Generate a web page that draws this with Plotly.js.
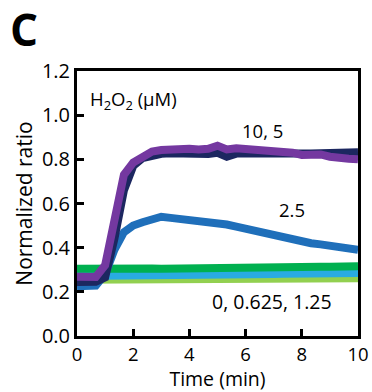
<!DOCTYPE html>
<html><head><meta charset="utf-8">
<script src="https://cdn.plot.ly/plotly-3.0.1.min.js"></script>
<style>html,body{margin:0;padding:0;background:#fff;}#chart{width:372px;height:392px;}</style>
</head><body><div id="chart"></div>
<script>
const time = [0,0.33,0.67,1.0,1.33,1.67,2.0,2.33,2.67,3.0,3.33,3.67,4.0,4.33,4.67,5.0,5.33,5.67,6.0,6.33,6.67,7.0,7.33,7.67,8.0,8.33,8.67,9.0,9.33,9.67,10.0];
const c0     = [0.305,0.306,0.305,0.305,0.305,0.306,0.305,0.306,0.306,0.305,0.306,0.307,0.307,0.308,0.308,0.309,0.31,0.31,0.311,0.311,0.312,0.312,0.312,0.313,0.313,0.313,0.314,0.314,0.315,0.315,0.316];
const c0625  = [0.255,0.255,0.255,0.255,0.254,0.254,0.254,0.255,0.255,0.255,0.256,0.255,0.256,0.256,0.257,0.257,0.257,0.258,0.258,0.258,0.258,0.259,0.259,0.259,0.26,0.26,0.26,0.26,0.261,0.261,0.262];
const c125   = [0.272,0.272,0.272,0.273,0.274,0.274,0.275,0.275,0.275,0.276,0.276,0.277,0.277,0.278,0.278,0.279,0.279,0.28,0.28,0.28,0.281,0.281,0.282,0.282,0.283,0.283,0.284,0.284,0.284,0.285,0.285];
const c25    = [0.225,0.225,0.228,0.28,0.39,0.47,0.50,0.515,0.53,0.54,0.535,0.53,0.525,0.522,0.52,0.51,0.505,0.495,0.485,0.472,0.465,0.455,0.45,0.44,0.425,0.42,0.415,0.41,0.405,0.40,0.39];
const c5     = [0.245,0.245,0.246,0.265,0.44,0.66,0.77,0.805,0.82,0.825,0.828,0.826,0.822,0.825,0.824,0.83,0.812,0.826,0.826,0.82,0.818,0.825,0.826,0.82,0.824,0.826,0.828,0.83,0.83,0.832,0.832];
const c10    = [0.268,0.267,0.267,0.32,0.53,0.73,0.785,0.815,0.835,0.842,0.845,0.85,0.848,0.845,0.848,0.862,0.845,0.85,0.847,0.845,0.84,0.838,0.835,0.83,0.82,0.825,0.822,0.812,0.805,0.803,0.80];

const series = [
  {y:c0625, color:'#92d050'},
  {y:c125, color:'#29abe2'},
  {y:c0, color:'#00b050'},
  {y:c25, color:'#1f6fba'},
  {y:c5, color:'#1c2760'},
  {y:c10, color:'#7438a0'}
];
const traces = series.map(s => ({x:time, y:s.y, type:'scatter', mode:'lines', line:{color:s.color, width:8}, hoverinfo:'skip'}));

const F = 'Open Sans, Liberation Sans, sans-serif';
const layout = {
  width:372, height:392,
  margin:{l:77, r:14, t:71, b:56},
  paper_bgcolor:'#fff', plot_bgcolor:'#fff',
  showlegend:false,
  font:{family:F, color:'#000', size:18},
  xaxis:{range:[0,10], tickvals:[0,2,4,6,8,10], ticks:'inside', ticklen:7, tickwidth:3, tickcolor:'#000',
         showline:true, linewidth:3, linecolor:'#000', mirror:true, showgrid:false, zeroline:false,
         tickfont:{size:18.5, family:F}, title:{text:'Time (min)', font:{size:19.5, family:F}, standoff:8}},
  yaxis:{range:[0,1.2], tickvals:[0,0.2,0.4,0.6,0.8,1.0,1.2], tickformat:'.1f', ticks:'inside', ticklen:7, tickwidth:3, tickcolor:'#000',
         showline:true, linewidth:3, linecolor:'#000', mirror:true, showgrid:false, zeroline:false,
         tickfont:{size:20, family:F}, title:{text:'Normalized ratio', font:{size:21, family:F}, standoff:4}},
  annotations:[
    {xref:'x', yref:'y', x:0.38, y:1.07, text:'H<sub>2</sub>O<sub>2</sub> (μM)', showarrow:false, xanchor:'left', font:{size:18.5, family:F}},
    {xref:'x', yref:'y', x:6.6, y:0.93, text:'10, 5', showarrow:false, font:{size:18.5, family:F}},
    {xref:'x', yref:'y', x:7.65, y:0.575, text:'2.5', showarrow:false, font:{size:18.5, family:F}},
    {xref:'x', yref:'y', x:6.95, y:0.155, text:'0, 0.625, 1.25', showarrow:false, font:{size:19.5, family:F}},
    {xref:'paper', yref:'paper', x:-0.245, y:1.28, text:'<b>C</b>', showarrow:false, xanchor:'left', yanchor:'top', font:{size:44, family:F}}
  ]
};
Plotly.newPlot('chart', traces, layout, {staticPlot:true, displayModeBar:false});
</script></body></html>
